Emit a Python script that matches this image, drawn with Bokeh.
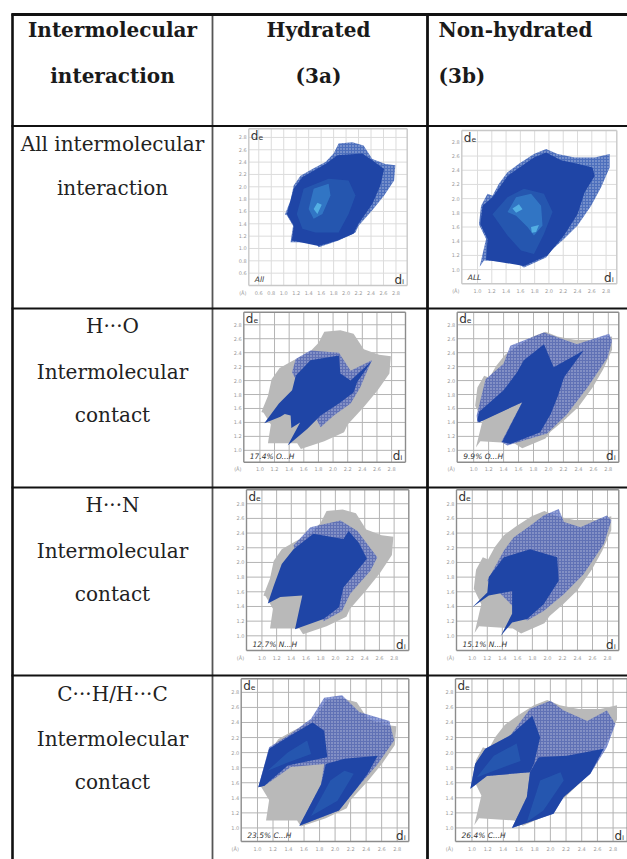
from bokeh.plotting import figure
from bokeh.models import Range1d
from bokeh.core.properties import value
from bokeh.embed import file_html
from bokeh.resources import INLINE

# ---- table text ----
col_headers = [("Intermolecular", "interaction"), ("Hydrated", "(3a)"), ("Non-hydrated", "(3b)")]
row_headers = [("All intermolecular", "interaction"),
               ("H\u00b7\u00b7\u00b7O", "Intermolecular", "contact"),
               ("H\u00b7\u00b7\u00b7N", "Intermolecular", "contact"),
               ("C\u00b7\u00b7\u00b7H/H\u00b7\u00b7\u00b7C", "Intermolecular", "contact")]
pct_labels = ["All", "ALL", "17.4% O...H", "9.9% O...H", "12.7% N...H", "15.1% N...H", "23.5% C...H", "26.4% C...H"]
de_labels = ["d\u2091"] * 8
ticks_wide = [0.6, 0.8, 1.0, 1.2, 1.4, 1.6, 1.8, 2.0, 2.2, 2.4, 2.6, 2.8]
ticks_std = [1.0, 1.2, 1.4, 1.6, 1.8, 2.0, 2.2, 2.4, 2.6, 2.8]

# ---- fingerprint outlines, (d_i, d_e) in angstrom ----
hull_a_di = [1.02,1.11,1.16,1.27,1.46,1.67,1.80,1.88,2.10,2.28,2.42,2.63,2.79,2.77,2.61,2.42,2.20,2.15,1.88,1.56,1.51,1.11,1.15,1.05]
hull_a_de = [1.55,1.78,2.02,2.18,2.29,2.40,2.54,2.70,2.72,2.67,2.45,2.37,2.35,2.10,1.86,1.62,1.37,1.26,1.13,1.02,1.10,1.10,1.37,1.54]
hull_b_di = [1.02,1.05,1.14,1.21,1.30,1.42,1.58,1.79,1.96,2.12,2.36,2.64,2.85,2.85,2.73,2.59,2.40,2.21,2.03,1.96,1.65,1.54,1.09,1.03,1.12]
hull_b_de = [1.64,1.90,2.07,2.04,2.21,2.37,2.49,2.63,2.70,2.63,2.58,2.58,2.63,2.44,2.16,1.90,1.62,1.43,1.27,1.17,1.03,1.10,1.13,1.04,1.43]

all_a_core_di = [1.05,1.16,1.30,1.67,1.86,2.26,2.42,2.61,2.55,2.42,2.20,2.12,1.86,1.56,1.13,1.16]
all_a_core_de = [1.56,1.97,2.16,2.37,2.51,2.54,2.43,2.29,2.02,1.72,1.40,1.24,1.13,1.04,1.13,1.37]
all_a_mid_di = [1.21,1.32,1.72,2.04,2.15,2.04,1.88,1.51,1.30]
all_a_mid_de = [1.56,1.97,2.13,2.10,1.86,1.56,1.26,1.26,1.32]
all_a_hot_di = [1.40,1.48,1.72,1.75,1.62,1.48]
all_a_hot_de = [1.64,1.97,2.05,1.86,1.56,1.48]
all_a_peak_di = [1.48,1.54,1.61,1.54]
all_a_peak_de = [1.64,1.74,1.71,1.56]

all_b_core_di = [1.04,1.07,1.21,1.42,1.79,1.96,2.17,2.40,2.61,2.64,2.50,2.40,2.21,1.98,1.65,1.12,1.14]
all_b_core_de = [1.64,1.90,2.02,2.32,2.58,2.65,2.54,2.49,2.44,2.32,2.09,1.78,1.48,1.20,1.05,1.14,1.43]
all_b_mid_di = [1.21,1.42,1.65,1.93,2.05,1.93,1.79,1.61,1.42]
all_b_mid_de = [1.78,2.02,2.14,2.07,1.81,1.50,1.22,1.27,1.48]
all_b_hot_di = [1.42,1.54,1.75,1.89,1.91,1.79,1.70,1.54]
all_b_hot_de = [1.81,2.02,2.07,1.90,1.62,1.48,1.60,1.76]
all_b_peak1_di = [1.49,1.58,1.63,1.54]
all_b_peak1_de = [1.86,1.92,1.85,1.80]
all_b_peak2_di = [1.75,1.86,1.82,1.76]
all_b_peak2_de = [1.60,1.63,1.53,1.52]

ho_a_halo_di = [1.44,1.49,1.69,2.08,2.24,2.53,2.37,2.24,2.01,1.83]
ho_a_halo_de = [2.12,2.31,2.43,2.40,2.14,2.29,1.90,1.67,1.50,1.33]
ho_a_core_di = [1.06,1.26,1.44,1.49,1.69,2.08,2.10,2.24,2.53,2.33,2.28,2.08,1.83,1.65,1.38,1.55,1.43,1.42,1.34,1.28]
ho_a_core_de = [1.39,1.67,1.86,2.07,2.29,2.36,2.10,2.00,2.28,1.98,1.83,1.67,1.50,1.31,1.07,1.40,1.32,1.50,1.52,1.48]

ho_b_halo_di = [1.04,1.16,1.40,1.49,1.94,2.38,2.81,2.85,2.79,2.52,2.25,1.98,1.45,1.37,1.65,1.05]
ho_b_halo_de = [1.50,2.02,2.24,2.50,2.69,2.52,2.67,2.57,2.33,1.90,1.52,1.24,1.07,1.12,1.69,1.40]
ho_b_core_di = [1.05,1.07,1.40,1.58,1.67,1.94,2.07,2.47,2.21,2.12,2.03,1.89,1.49,1.38,1.65,1.07]
ho_b_core_de = [1.43,1.55,1.86,2.12,2.29,2.52,2.19,2.43,2.05,1.76,1.52,1.26,1.09,1.12,1.69,1.40]

hn_a_halo_di = [1.43,1.66,2.07,2.30,2.57,2.48,2.20,2.09,1.84]
hn_a_halo_de = [2.23,2.48,2.57,2.43,2.07,1.89,1.57,1.34,1.20]
hn_a_core_di = [1.08,1.16,1.27,1.43,1.70,2.11,2.18,2.32,2.43,2.30,2.11,2.05,1.84,1.45,1.55,1.25]
hn_a_core_de = [1.44,1.68,1.98,2.18,2.39,2.32,2.43,2.27,2.05,1.89,1.66,1.39,1.23,1.09,1.55,1.53]

hn_b_halo_di = [1.20,1.42,1.55,1.77,1.95,2.15,2.22,2.44,2.79,2.85,2.75,2.48,2.22,1.95,1.73]
hn_b_halo_de = [1.75,2.16,2.34,2.50,2.64,2.73,2.55,2.48,2.64,2.57,2.25,1.84,1.57,1.34,1.21]
hn_b_core_di = [1.00,1.20,1.22,1.42,1.77,2.13,2.15,1.95,1.73,1.53,1.38,1.53,1.53,1.22]
hn_b_core_de = [1.39,1.59,1.80,2.07,2.18,2.07,1.75,1.43,1.23,1.18,1.00,1.30,1.61,1.55]

ch_a_halo_di = [1.01,1.15,1.43,1.69,1.86,2.09,2.31,2.70,2.76,2.55,2.29,2.05,1.54,1.82,1.86,1.43,1.09]
ch_a_halo_de = [1.54,2.07,2.25,2.45,2.73,2.76,2.54,2.42,2.16,1.85,1.54,1.23,1.03,1.58,1.85,1.81,1.56]
ch_a_up_di = [1.01,1.15,1.43,1.71,1.86,1.90,1.39,1.09]
ch_a_up_de = [1.54,2.05,2.23,2.40,2.29,1.94,1.83,1.56]
ch_a_lo_di = [1.54,1.82,1.88,2.12,2.55,2.42,2.29,2.05]
ch_a_lo_de = [1.03,1.58,1.85,1.92,1.96,1.72,1.54,1.23]
ch_a_acc1_di = [1.13,1.39,1.64,1.69,1.39]
ch_a_acc1_de = [1.76,2.00,2.16,1.98,1.87]
ch_a_acc2_di = [1.69,1.94,2.12,2.24,2.03]
ch_a_acc2_de = [1.16,1.63,1.76,1.72,1.36]

ch_b_halo_di = [0.98,1.04,1.17,1.49,1.74,2.00,2.17,2.47,2.72,2.83,2.72,2.51,2.17,2.04,1.51,1.70,1.74,1.19]
ch_b_halo_de = [1.52,1.85,2.05,2.23,2.58,2.69,2.56,2.42,2.56,2.38,2.07,1.72,1.41,1.19,1.00,1.41,1.74,1.69]
ch_b_up_di = [0.98,1.04,1.17,1.49,1.77,1.87,1.79,1.74,1.19]
ch_b_up_de = [1.52,1.85,2.05,2.23,2.49,2.20,1.85,1.74,1.69]
ch_b_lo_di = [1.51,1.70,1.74,1.85,2.21,2.68,2.51,2.17,2.04]
ch_b_lo_de = [1.00,1.41,1.74,1.94,1.96,2.05,1.72,1.41,1.19]
ch_b_acc1_di = [1.06,1.28,1.57,1.62,1.23]
ch_b_acc1_de = [1.67,1.96,2.12,1.89,1.74]
ch_b_acc2_di = [1.70,1.87,2.13,2.17,1.91]
ch_b_acc2_de = [1.08,1.63,1.74,1.63,1.23]

# ---- styles ----
INK = "#111111"
GREY = "#b9b9b9"
STYLE = {
    "hull": ("#2f57b2", 0.85), "grey": (GREY, 1.0),
    "halo": ("#3a52b4", 0.7), "core": ("#1f45a6", 1.0),
    "mid": ("#2a62b6", 0.6), "hot": ("#3c8fd6", 0.55), "peak": ("#5fc3ee", 0.75),
}
SPECKLED = {"hull", "halo"}

# panel geometry on the page: left, right, d_left, d_right, top, bottom, d_bottom, d_top
PANELS = [
    (248.3, 406.7, 0.44, 2.98, 128.3, 285.0, 0.40, 2.94),
    (461.3, 616.3, 0.78, 2.95, 130.0, 283.3, 0.80, 2.96),
    (243.3, 405.0, 0.78, 2.99, 311.7, 461.7, 0.83, 2.98),
    (456.7, 618.3, 0.78, 2.94, 311.7, 461.7, 0.83, 2.98),
    (246.0, 408.3, 0.79, 3.00, 489.3, 650.0, 0.80, 2.99),
    (456.0, 618.3, 0.79, 2.95, 489.3, 650.0, 0.80, 2.99),
    (240.7, 408.3, 0.79, 2.95, 678.3, 841.0, 0.82, 2.98),
    (455.0, 626.7, 0.79, 2.98, 678.3, 841.0, 0.82, 2.98),
]
LAYERS = [
    [(hull_a_di, hull_a_de, "hull"), (all_a_core_di, all_a_core_de, "core"), (all_a_mid_di, all_a_mid_de, "mid"),
     (all_a_hot_di, all_a_hot_de, "hot"), (all_a_peak_di, all_a_peak_de, "peak")],
    [(hull_b_di, hull_b_de, "hull"), (all_b_core_di, all_b_core_de, "core"), (all_b_mid_di, all_b_mid_de, "mid"),
     (all_b_hot_di, all_b_hot_de, "hot"), (all_b_peak1_di, all_b_peak1_de, "peak"), (all_b_peak2_di, all_b_peak2_de, "peak")],
    [(hull_a_di, hull_a_de, "grey"), (ho_a_halo_di, ho_a_halo_de, "halo"), (ho_a_core_di, ho_a_core_de, "core")],
    [(hull_b_di, hull_b_de, "grey"), (ho_b_halo_di, ho_b_halo_de, "halo"), (ho_b_core_di, ho_b_core_de, "core")],
    [(hull_a_di, hull_a_de, "grey"), (hn_a_halo_di, hn_a_halo_de, "halo"), (hn_a_core_di, hn_a_core_de, "core")],
    [(hull_b_di, hull_b_de, "grey"), (hn_b_halo_di, hn_b_halo_de, "halo"), (hn_b_core_di, hn_b_core_de, "core")],
    [(hull_a_di, hull_a_de, "grey"), (ch_a_halo_di, ch_a_halo_de, "halo"), (ch_a_up_di, ch_a_up_de, "core"),
     (ch_a_lo_di, ch_a_lo_de, "core"), (ch_a_acc1_di, ch_a_acc1_de, "mid"), (ch_a_acc2_di, ch_a_acc2_de, "mid")],
    [(hull_b_di, hull_b_de, "grey"), (ch_b_halo_di, ch_b_halo_de, "halo"), (ch_b_up_di, ch_b_up_de, "core"),
     (ch_b_lo_di, ch_b_lo_de, "core"), (ch_b_acc1_di, ch_b_acc1_de, "mid"), (ch_b_acc2_di, ch_b_acc2_de, "mid")],
]

PAGE_L, PAGE_R, PAGE_T, PAGE_B = 0, 627, 0, 859
p = figure(width=PAGE_R - PAGE_L, height=PAGE_B - PAGE_T, output_backend="svg", toolbar_location=None,
           x_range=Range1d(PAGE_L, PAGE_R), y_range=Range1d(PAGE_B, PAGE_T), min_border=0)
p.axis.visible = False
p.grid.visible = False
p.outline_line_color = None
p.background_fill_color = "white"

SERIF = value("DejaVu Serif")
SANS = value("DejaVu Sans")

def page_text(x, y, t, size, align="center", style="normal", color=INK, font=SERIF, **kw):
    p.text([x], [y], text=[t], text_font=font, text_font_size=f"{size}px", text_font_style=style,
           text_color=color, text_align=align, text_baseline="middle", **kw)

for i, (L, R, dl, dr, T, B, db, dt) in enumerate(PANELS):
    sx = (R - L) / (dr - dl)
    sy = (B - T) / (dt - db)
    xn, yn = f"x{i}", f"y{i}"
    p.extra_x_ranges[xn] = Range1d(dl - (L - PAGE_L) / sx, dr + (PAGE_R - R) / sx)
    p.extra_y_ranges[yn] = Range1d(db - (PAGE_B - B) / sy, dt + (T - PAGE_T) / sy)
    first = i < 2
    gc = "#dcdcdc" if first else "#b4b4b4"
    fc = "#c8c8c8" if first else "#8c8c8c"
    tk = ticks_wide if i == 0 else ticks_std
    kw = dict(x_range_name=xn, y_range_name=yn)
    # grid
    p.segment(tk, [db] * len(tk), tk, [dt] * len(tk), line_color=gc, line_width=1, **kw)
    p.segment([dl] * len(tk), tk, [dr] * len(tk), tk, line_color=gc, line_width=1, **kw)
    # blobs
    for di, de, s in LAYERS[i]:
        c, a = STYLE[s]
        extra = dict(hatch_pattern="dot", hatch_color="white", hatch_alpha=0.55, hatch_scale=3,
                     hatch_weight=1) if s in SPECKLED else {}
        p.patch(di, de, fill_color=c, fill_alpha=a, line_color=None, **extra, **kw)
    # frame
    p.segment([dl, dl, dl, dr], [db, dt, db, db], [dr, dr, dl, dr], [db, dt, dt, dt],
              line_color=fc, line_width=1.4, **kw)
    # tick labels
    lab = [f"{t:.1f}" for t in tk]
    p.text([dl - 6 / sx] * len(tk), tk, text=lab, text_font=SANS, text_font_size="5px", text_color="#9a9a9a",
           text_align="center", text_baseline="middle", **kw)
    p.text(tk, [db - 7 / sy] * len(tk), text=lab, text_font=SANS, text_font_size="5px", text_color="#9a9a9a",
           text_align="center", text_baseline="middle", **kw)
    page_text(L - 6, B + 7, "(\u00c5)", 5, color="#9a9a9a", font=SANS)
    # panel labels
    page_text(L + 2, T + 7, de_labels[i], 12, align="left", color="#333333", font=SANS)
    page_text(R - 3, B - 6, "d\u1d62", 12, align="right", color="#333333", font=SANS)
    page_text(L + 6, B - 6, pct_labels[i], 7.5, align="left", style="italic", color="#333333", font=SANS)

# table rules
col_x = [12, 212, 427]
col_w = [2.6, 1.8, 2.8]
col_c = ["#111111", "#555555", "#111111"]
row_y = [14, 125.5, 308, 487, 675]
row_w = [3, 2.2, 2.2, 2.2, 2.2]
p.segment(col_x, [13] * 3, col_x, [PAGE_B] * 3, line_color=col_c, line_width=col_w)
p.segment([11] * 5, row_y, [PAGE_R] * 5, row_y, line_color=INK, line_width=row_w)

# header text
head_cx = [112, 318, 438]
head_al = ["center", "center", "left"]
for (a, b), x, al in zip(col_headers, head_cx, head_al):
    page_text(x, 29, a, 20, align=al, style="bold", color="#1a1a1a")
    page_text(x, 75, b, 20, align=al, style="bold", color="#1a1a1a")

row_text_y = [(143, 187), (325, 371, 414), (504, 550, 593), (693, 738, 781)]
for lines, ys in zip(row_headers, row_text_y):
    for t, y in zip(lines, ys):
        page_text(112, y, t, 20, color="#222222")

open("out.html", "w").write(file_html(p, INLINE))
